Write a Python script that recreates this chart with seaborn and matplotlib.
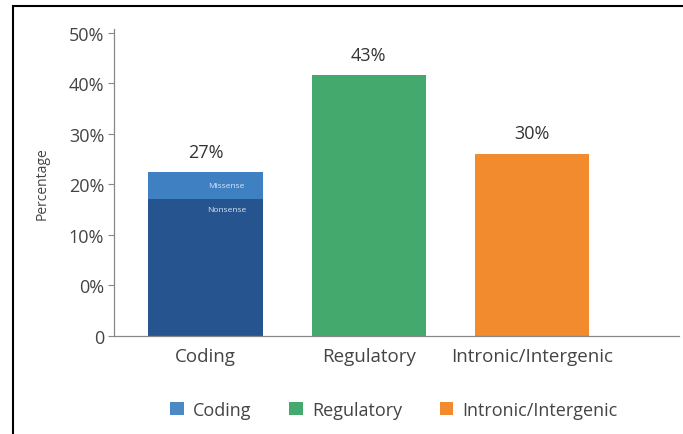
import matplotlib
matplotlib.use("Agg")
import matplotlib.pyplot as plt
from matplotlib.patches import Rectangle, Patch
import seaborn as sns
import pandas as pd
import numpy as np

# Share of variants by genomic location
categories = ["Coding", "Regulatory", "Intronic/Intergenic"]
totals = [27, 43, 30]
value_labels = ["27%", "43%", "30%"]
coding_nonsense = 22.6          # lower part of the coding bar
coding_parts = ["Missense", "Nonsense"]
tick_labels = ["0", "0%", "10%", "20%", "30%", "40%", "50%"]

dark_blue = "#25548f"
light_blue = "#3f80c2"
legend_blue = "#4a89c4"
green = "#44a96c"
orange = "#f28a2e"

sns.set_theme(style="white")
plt.rcParams["font.family"] = ["Open Sans", "DejaVu Sans"]

fig = plt.figure(figsize=(6.83, 4.35), dpi=100)
ax = fig.add_axes([114 / 683, 1 - 337 / 435, (679 - 114) / 683, (337 - 30) / 435])

df = pd.DataFrame({"category": categories, "value": totals})
sns.barplot(data=df, x="category", y="value", hue="category", order=categories,
            palette=[light_blue, green, orange], width=0.7, legend=False,
            saturation=1, linewidth=0, ax=ax)
sns.barplot(x=["Coding"], y=[coding_nonsense], order=categories, color=dark_blue,
            width=0.7, saturation=1, linewidth=0, ax=ax)

ax.set_xlim(-0.56, 2.9)
ax.set_ylim(0, 50.6)
ax.set_yticks(np.linspace(0, 50, len(tick_labels)))
ax.set_yticklabels(tick_labels)
ax.tick_params(axis="y", length=4, width=0.8, color="#888888", labelsize=13,
               labelcolor="#444444", pad=3, left=True)
ax.tick_params(axis="x", length=0, labelsize=13.5, labelcolor="#444444", pad=8)
ax.set_xlabel("")
ax.set_ylabel("Percentage", fontsize=10, color="#444444", labelpad=14)

for side in ["top", "right"]:
    ax.spines[side].set_visible(False)
for side in ["left", "bottom"]:
    ax.spines[side].set_color("#888888")
    ax.spines[side].set_linewidth(0.9)

for i, (v, lab) in enumerate(zip(totals, value_labels)):
    ax.text(i, v + 1.9, lab, ha="center", va="bottom", fontsize=13, color="#333333")

ax.text(0.13, (coding_nonsense + totals[0]) / 2, coding_parts[0], ha="center",
        va="center", fontsize=6, color="#dbe8f5")
ax.text(0.13, coding_nonsense - 1.7, coding_parts[1], ha="center", va="center",
        fontsize=6, color="#dbe8f5")

handles = [Patch(facecolor=c, edgecolor="none") for c in [legend_blue, green, orange]]
fig.legend(handles, categories, loc="center", bbox_to_anchor=(394 / 683, 1 - 411 / 435),
           ncol=3, frameon=False, fontsize=13, handlelength=0.75, handleheight=0.75,
           handletextpad=0.5, columnspacing=2.1, labelcolor="#444444")

# Outer frame
fig.patches.append(Rectangle((13 / 683, -0.2), 1.2, 1.2 - 7 / 435,
                             transform=fig.transFigure, fill=False,
                             edgecolor="black", linewidth=1.5))

fig.savefig("out.png", dpi=100, facecolor="white")
